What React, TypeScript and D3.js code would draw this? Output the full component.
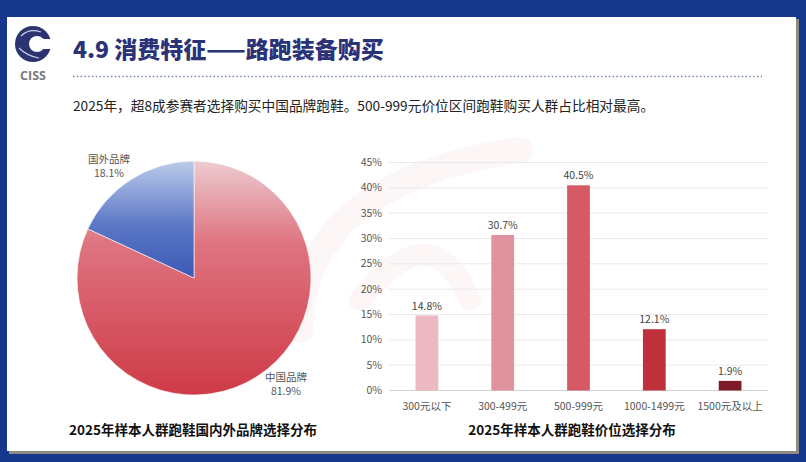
import * as d3 from "d3";
import { useEffect, useRef } from "react";

// pie data
const brandNames = ["中国品牌", "国外品牌"];
const brandValues = [81.9, 18.1];

// bar data
const priceBands = ["300元以下", "300-499元", "500-999元", "1000-1499元", "1500元及以上"];
const priceValues = [14.8, 30.7, 40.5, 12.1, 1.9];
const yTicks = [0, 5, 10, 15, 20, 25, 30, 35, 40, 45];

const titleText = "4.9 消费特征——路跑装备购买";
const subtitleText = "2025年，超8成参赛者选择购买中国品牌跑鞋。500-999元价位区间跑鞋购买人群占比相对最高。";
const pieCaption = "2025年样本人群跑鞋国内外品牌选择分布";
const barCaption = "2025年样本人群跑鞋价位选择分布";

const FONT = "'Noto Sans CJK SC', 'Noto Sans', sans-serif";

const App = () => {
  const svgRef = useRef(null);

  useEffect(() => {
    const w = 806;
    const h = 462;
    const svg = d3.select(svgRef.current).attr("width", w).attr("height", h);
    svg.selectAll("*").remove();

    const defs = svg.append("defs");
    const redGrad = defs.append("linearGradient").attr("id", "redGrad").attr("x1", 0).attr("y1", 0).attr("x2", 0).attr("y2", 1);
    redGrad.append("stop").attr("offset", "0%").attr("stop-color", "#edcbd0");
    redGrad.append("stop").attr("offset", "35%").attr("stop-color", "#de7480");
    redGrad.append("stop").attr("offset", "100%").attr("stop-color", "#cf3a47");
    const blueGrad = defs.append("linearGradient").attr("id", "blueGrad").attr("x1", 0).attr("y1", 0).attr("x2", 0).attr("y2", 1);
    blueGrad.append("stop").attr("offset", "0%").attr("stop-color", "#bccbea");
    blueGrad.append("stop").attr("offset", "55%").attr("stop-color", "#5b77c6");
    blueGrad.append("stop").attr("offset", "100%").attr("stop-color", "#3a59b4");

    // frame + card
    svg.append("rect").attr("width", w).attr("height", h).attr("fill", "#17378c");
    svg.append("rect").attr("x", 9).attr("y", 19).attr("width", 790).attr("height", 435).attr("fill", "#8d8b82");
    svg.append("rect").attr("x", 7).attr("y", 17).attr("width", 789).attr("height", 434).attr("fill", "#ffffff");

    // faint watermark swoosh
    const wm = svg.append("g").attr("opacity", 0.035).attr("fill", "none").attr("stroke", "#d0303c");
    wm.append("path").attr("d", "M300,330 C300,230 380,170 520,150").attr("stroke-width", 26).attr("stroke-linecap", "round");
    wm.append("path").attr("d", "M360,300 C400,250 440,230 470,300").attr("stroke-width", 22).attr("stroke-linecap", "round");

    // logo
    const logo = svg.append("g").attr("transform", "translate(33,44)");
    logo.append("circle").attr("r", 18).attr("fill", "#2b3470");
    logo.append("circle").attr("cx", 4).attr("cy", 0).attr("r", 8).attr("fill", "#ffffff");
    logo.append("rect").attr("x", 4).attr("y", -5).attr("width", 16).attr("height", 10).attr("fill", "#ffffff");
    logo.append("path").attr("d", "M-12,-8 Q-4,-16 8,-12").attr("stroke", "#c8d0ea").attr("stroke-width", 1.2).attr("fill", "none");
    logo.append("path").attr("d", "M-14,4 Q-6,12 6,14").attr("stroke", "#c8d0ea").attr("stroke-width", 1.2).attr("fill", "none");
    svg.append("text").attr("x", 33).attr("y", 80).attr("text-anchor", "middle")
      .attr("font-family", "'Open Sans', sans-serif").attr("font-weight", 700).attr("font-size", 12.5)
      .attr("fill", "#7a7a7a").text("CISS");

    // title
    svg.append("text").attr("x", 73).attr("y", 58).attr("font-family", FONT).attr("font-weight", 900)
      .attr("font-size", 23).attr("fill", "#2b3378").text(titleText);
    svg.append("line").attr("x1", 73).attr("x2", 762).attr("y1", 76.5).attr("y2", 76.5)
      .attr("stroke", "#6f80b2").attr("stroke-width", 1.4).attr("stroke-dasharray", "1.4 2.4");
    svg.append("text").attr("x", 73).attr("y", 111).attr("font-family", FONT)
      .attr("font-size", 13.7).attr("fill", "#222").text(subtitleText);

    // pie
    const cx = 194;
    const cy = 278;
    const r = 117;
    const pie = d3.pie<number>().sort(null).value((d) => d);
    const arcs = pie(brandValues);
    const arc = d3.arc<any>().innerRadius(0).outerRadius(r);
    const pieG = svg.append("g").attr("transform", `translate(${cx},${cy})`);
    pieG.selectAll("path").data(arcs).enter().append("path")
      .attr("d", arc)
      .attr("fill", (d, i) => (i === 0 ? "url(#redGrad)" : "url(#blueGrad)"))
      .attr("stroke", "#ffffff").attr("stroke-width", 0.6);

    arcs.forEach((a, i) => {
      const mid = (a.startAngle + a.endAngle) / 2;
      const ex = Math.sin(mid) * r;
      const ey = -Math.cos(mid) * r;
      const right = ex > 0;
      const lx = right ? ex + 29 : ex - 22;
      const ly = right ? ey + 4 : ey - 16;
      const t = pieG.append("text").attr("text-anchor", "middle").attr("font-family", FONT)
        .attr("font-size", 10.5).attr("fill", "#555");
      t.append("tspan").attr("x", lx).attr("y", ly).text(brandNames[i]);
      t.append("tspan").attr("x", lx).attr("y", ly + 14).text(d3.format(".1f")(brandValues[i]) + "%");
    });

    svg.append("text").attr("x", 193).attr("y", 435).attr("text-anchor", "middle").attr("font-family", FONT)
      .attr("font-weight", 700).attr("font-size", 13.5).attr("fill", "#111").text(pieCaption);

    // bar chart
    const xScale = d3.scaleBand().domain(priceBands).range([389, 768]).paddingInner(0.7).paddingOuter(0.35);
    const yScale = d3.scaleLinear().domain([0, 45]).range([390.5, 162.5]);

    const grid = svg.append("g");
    grid.selectAll("line").data(yTicks).enter().append("line")
      .attr("x1", 389).attr("x2", 768)
      .attr("y1", (d) => yScale(d)).attr("y2", (d) => yScale(d))
      .attr("stroke", (d) => (d === 0 ? "#d4d4d4" : "#e9e9e9")).attr("stroke-width", 1);
    grid.selectAll("text").data(yTicks).enter().append("text")
      .attr("x", 382).attr("y", (d) => yScale(d) + 3.5).attr("text-anchor", "end")
      .attr("font-family", FONT).attr("font-size", 10.5).attr("fill", "#555")
      .text((d) => d + "%");

    const barColors = ["#ecb8c2", "#e0929e", "#d65a66", "#be303c", "#7d1c28"];
    const bars = svg.append("g");
    bars.selectAll("rect").data(priceValues).enter().append("rect")
      .attr("x", (d, i) => xScale(priceBands[i]))
      .attr("width", xScale.bandwidth())
      .attr("y", (d) => yScale(d))
      .attr("height", (d) => yScale(0) - yScale(d))
      .attr("fill", (d, i) => barColors[i]);
    bars.selectAll("text.val").data(priceValues).enter().append("text").attr("class", "val")
      .attr("x", (d, i) => xScale(priceBands[i]) + xScale.bandwidth() / 2)
      .attr("y", (d) => yScale(d) - 6)
      .attr("text-anchor", "middle").attr("font-family", FONT).attr("font-size", 10.5).attr("fill", "#444")
      .text((d) => d3.format(".1f")(d) + "%");
    bars.selectAll("text.cat").data(priceBands).enter().append("text").attr("class", "cat")
      .attr("x", (d) => xScale(d) + xScale.bandwidth() / 2)
      .attr("y", 410)
      .attr("text-anchor", "middle").attr("font-family", FONT).attr("font-size", 10.5).attr("fill", "#555")
      .text((d) => d);

    svg.append("text").attr("x", 572).attr("y", 435).attr("text-anchor", "middle").attr("font-family", FONT)
      .attr("font-weight", 700).attr("font-size", 13.5).attr("fill", "#111").text(barCaption);
  }, []);

  return (
    <div style={{ position: "absolute", left: 0, top: 0 }}>
      <svg ref={svgRef} style={{ display: "block" }}></svg>
    </div>
  );
};

export default App;
